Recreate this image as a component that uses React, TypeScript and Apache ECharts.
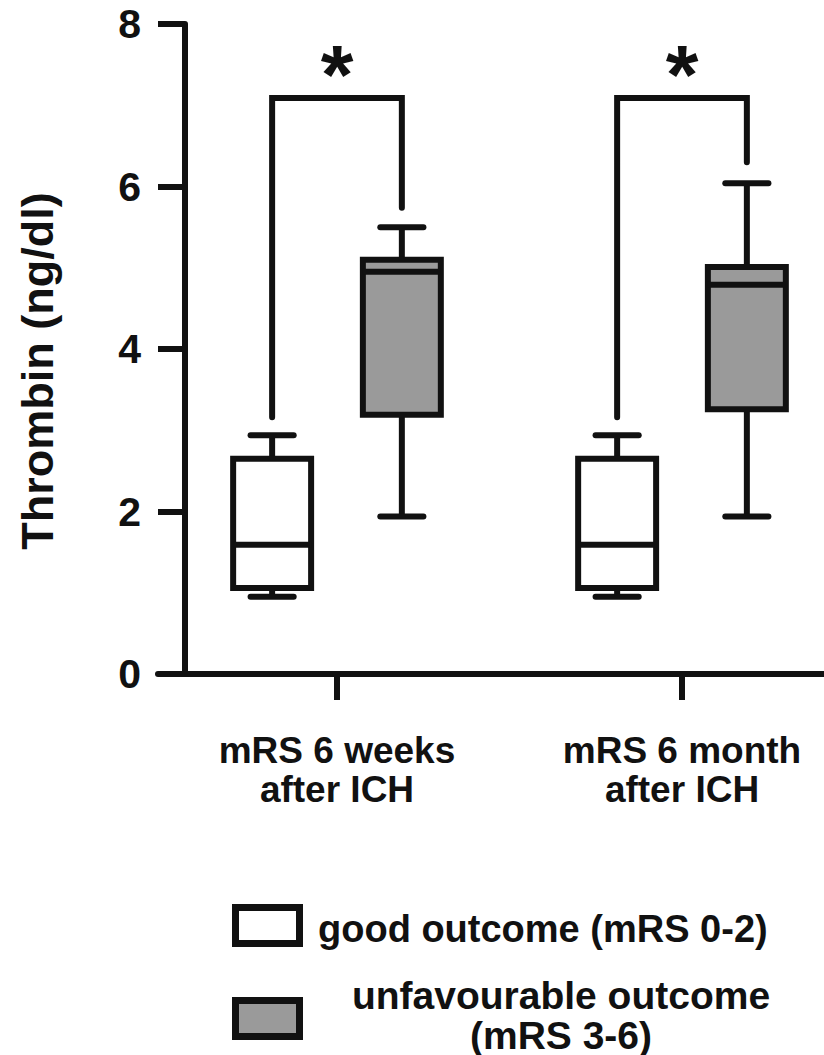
import React, { useEffect, useRef } from "react";
import * as echarts from "echarts";

// ---- data ----
const categories = ["mRS 6 weeks\nafter ICH", "mRS 6 month\nafter ICH"];
const categoryPos = [1, 2];
const groupNames = ["good outcome (mRS 0-2)", "unfavourable outcome\n(mRS 3-6)"];
// [min, Q1, median, Q3, max]
const goodStats = [
  [0.95, 1.06, 1.59, 2.65, 2.94],
  [0.95, 1.06, 1.59, 2.65, 2.94],
];
const unfavStats = [
  [1.94, 3.19, 4.95, 5.1, 5.5],
  [1.94, 3.26, 4.79, 5.01, 6.04],
];
// bracket: [top, leftLegEnd, rightLegEnd]
const bracketLevels = [
  [7.09, 3.16, 5.74],
  [7.09, 3.16, 6.3],
];
const bracketMarks = ["*", "*"];
const yTicks = [0, 2, 4, 6, 8];

const FONT = '"Liberation Sans", Arial, Helvetica, sans-serif';
const INK = "#111111";
const GRAY = "#9a9a9a";
const OFFSET = 0.188;
const BOX_W = 0.226;
const CAP_W = 0.125;
const LW = 6;

function boxRender(fill: string) {
  return (params: any, api: any) => {
    const x = api.value(0);
    const lo = api.coord([x, api.value(1)]);
    const q1 = api.coord([x, api.value(2)]);
    const md = api.coord([x, api.value(3)]);
    const q3 = api.coord([x, api.value(4)]);
    const hi = api.coord([x, api.value(5)]);
    const cx = lo[0];
    const hw = api.size([BOX_W, 0])[0] / 2;
    const ch = api.size([CAP_W, 0])[0] / 2;
    const ls = { stroke: INK, lineWidth: LW, fill: null };
    return {
      type: "group",
      children: [
        { type: "line", shape: { x1: cx, y1: hi[1], x2: cx, y2: q3[1] }, style: { ...ls, lineCap: "butt" } },
        { type: "line", shape: { x1: cx, y1: lo[1], x2: cx, y2: q1[1] }, style: { ...ls, lineCap: "butt" } },
        { type: "line", shape: { x1: cx - ch, y1: hi[1], x2: cx + ch, y2: hi[1] }, style: { ...ls, lineCap: "round" } },
        { type: "line", shape: { x1: cx - ch, y1: lo[1], x2: cx + ch, y2: lo[1] }, style: { ...ls, lineCap: "round" } },
        {
          type: "rect",
          shape: { x: cx - hw, y: q3[1], width: hw * 2, height: q1[1] - q3[1] },
          style: { fill, stroke: INK, lineWidth: LW, lineJoin: "miter" },
        },
        { type: "line", shape: { x1: cx - hw, y1: md[1], x2: cx + hw, y2: md[1] }, style: { ...ls, lineCap: "butt" } },
      ],
    };
  };
}

function bracketRender(params: any, api: any) {
  const x1 = api.value(0);
  const x2 = api.value(1);
  const top = api.value(2);
  const le = api.value(3);
  const re = api.value(4);
  const a = api.coord([x1, le]);
  const b = api.coord([x1, top]);
  const c = api.coord([x2, top]);
  const d = api.coord([x2, re]);
  return {
    type: "group",
    children: [
      {
        type: "polyline",
        shape: { points: [a, b, c, d] },
        style: { stroke: INK, lineWidth: LW, fill: null, lineCap: "round", lineJoin: "miter" },
      },
      {
        type: "text",
        x: (b[0] + c[0]) / 2,
        y: b[1] + 19,
        style: {
          text: bracketMarks[params.dataIndex],
          fill: INK,
          font: `bold 84px ${FONT}`,
          align: "center",
          verticalAlign: "bottom",
        },
      },
    ],
  };
}

export default function App() {
  const ref = useRef<HTMLDivElement>(null);
  useEffect(() => {
    document.body.style.margin = "0";
    const chart = echarts.init(ref.current!, null, { renderer: "svg" });
    const goodData = categoryPos.map((c, i) => [c - OFFSET, ...goodStats[i]]);
    const unfavData = categoryPos.map((c, i) => [c + OFFSET, ...unfavStats[i]]);
    const bracketData = categoryPos.map((c, i) => [c - OFFSET, c + OFFSET, ...bracketLevels[i]]);
    chart.setOption({
      animation: false,
      backgroundColor: "#ffffff",
      grid: { left: 158, right: 0, top: 24, bottom: 1055 - 674, containLabel: false },
      xAxis: {
        type: "value",
        min: 0.4812,
        max: 2.4116,
        axisLine: { show: true, lineStyle: { color: INK, width: LW } },
        axisTick: { show: true, customValues: categoryPos, length: 26, lineStyle: { color: INK, width: LW } },
        axisLabel: {
          customValues: categoryPos,
          formatter: (v: number) => categories[categoryPos.indexOf(v)] ?? "",
          color: INK,
          fontFamily: FONT,
          fontWeight: "bold",
          fontSize: 37,
          lineHeight: 39,
          margin: 57,
        },
        splitLine: { show: false },
      },
      yAxis: {
        type: "value",
        min: 0,
        max: 8,
        interval: 2,
        offset: -27,
        name: "Thrombin (ng/dl)",
        nameLocation: "middle",
        nameRotate: 90,
        nameGap: 125,
        nameTextStyle: {
          color: INK,
          fontFamily: FONT,
          fontWeight: "bold",
          fontSize: 45,
          padding: [0, 44, 0, 0],
        },
        axisLine: { show: true, lineStyle: { color: INK, width: LW } },
        axisTick: { show: true, length: 27, lineStyle: { color: INK, width: LW } },
        axisLabel: {
          color: INK,
          fontFamily: FONT,
          fontWeight: "bold",
          fontSize: 41,
          margin: 44,
          formatter: (v: number) => (yTicks.includes(v) ? String(v) : ""),
        },
        splitLine: { show: false },
      },
      series: [
        { name: groupNames[0], type: "custom", renderItem: boxRender("#ffffff"), data: goodData, clip: false, z: 3 },
        { name: groupNames[1], type: "custom", renderItem: boxRender(GRAY), data: unfavData, clip: false, z: 3 },
        { name: "significance", type: "custom", renderItem: bracketRender, data: bracketData, clip: false, z: 2 },
      ],
      graphic: [
        {
          type: "rect",
          shape: { x: 235.5, y: 907.5, width: 64, height: 36 },
          style: { fill: "#ffffff", stroke: INK, lineWidth: 7 },
        },
        {
          type: "text",
          x: 318,
          y: 929,
          style: { text: groupNames[0], fill: INK, font: `bold 38px ${FONT}`, verticalAlign: "middle", align: "left" },
        },
        {
          type: "rect",
          shape: { x: 235.5, y: 1000.5, width: 64, height: 36 },
          style: { fill: GRAY, stroke: INK, lineWidth: 7 },
        },
        {
          type: "text",
          x: 561,
          y: 1015,
          style: {
            text: groupNames[1],
            fill: INK,
            font: `bold 39px ${FONT}`,
            lineHeight: 40,
            verticalAlign: "middle",
            align: "center",
          },
        },
      ],
    });
    return () => chart.dispose();
  }, []);
  return (
    <div
      ref={ref}
      style={{ position: "fixed", left: 0, top: 0, width: 824, height: 1055, background: "#fff" }}
    />
  );
}
